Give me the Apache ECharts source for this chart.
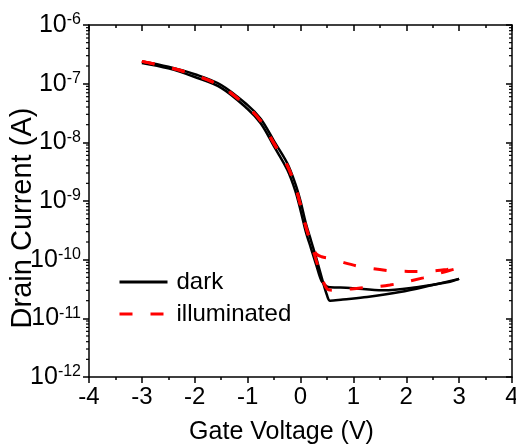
<!DOCTYPE html>
<html>
<head>
<meta charset="utf-8">
<script src="https://cdn.jsdelivr.net/npm/echarts@6/dist/echarts.min.js"></script>
<style>
html,body{margin:0;padding:0;background:#fff;}
#chart{width:516px;height:447px;}
</style>
</head>
<body>
<div id="chart"></div>
<script>
// ---- data ----
var xTickValues = [-4, -3, -2, -1, 0, 1, 2, 3, 4];
var yTickExponents = [-12, -11, -10, -9, -8, -7, -6];
var minorMultipliers = [2, 3, 4, 5, 6, 7, 8, 9];

// dark, branch A (reaches the lower minimum)
var darkA_V = [-3, -2.5, -2, -1.5, -1, -0.75, -0.5, -0.25, -0.1, 0, 0.1, 0.2, 0.3, 0.4, 0.5, 0.56, 0.8, 1.26, 1.88, 2.5, 3];
var darkA_I = [2.4e-7, 1.95e-7, 1.45e-7, 9.5e-8, 4.3e-8, 2.5e-8, 1.05e-8, 4.4e-9, 2.0e-9, 1.0e-9, 4.2e-10, 2.1e-10, 1.05e-10, 5.0e-11, 2.5e-11, 2.0e-11, 2.1e-11, 2.3e-11, 2.8e-11, 3.7e-11, 4.7e-11];
// dark, branch B
var darkB_V = [-3, -2.5, -2, -1.5, -1, -0.75, -0.5, -0.25, -0.1, 0, 0.1, 0.2, 0.3, 0.4, 0.5, 0.56, 0.94, 1.56, 2.2, 2.83, 3];
var darkB_I = [2.25e-7, 1.82e-7, 1.3e-7, 8.5e-8, 3.7e-8, 2.1e-8, 8.5e-9, 3.4e-9, 1.5e-9, 7.0e-10, 3.0e-10, 1.55e-10, 8.0e-11, 4.3e-11, 3.5e-11, 3.4e-11, 3.3e-11, 3.0e-11, 3.4e-11, 4.2e-11, 4.7e-11];
// illuminated, upper branch
var illumA_V = [-3, -2.5, -2, -1.5, -1, -0.75, -0.5, -0.25, -0.1, 0, 0.1, 0.2, 0.3, 0.4, 0.56, 0.8, 1.13, 1.5, 1.75, 2.32, 2.77, 3];
var illumA_I = [2.4e-7, 1.9e-7, 1.4e-7, 9.0e-8, 4.0e-8, 2.3e-8, 9.5e-9, 4.0e-9, 1.8e-9, 8.5e-10, 3.7e-10, 1.9e-10, 1.25e-10, 1.12e-10, 1.05e-10, 9.0e-11, 7.6e-11, 6.8e-11, 6.4e-11, 6.3e-11, 6.8e-11, 7.2e-11];
// illuminated, lower branch
var illumB_V = [-3, -2.5, -2, -1.5, -1, -0.75, -0.5, -0.25, -0.1, 0, 0.1, 0.2, 0.3, 0.4, 0.5, 0.6, 1.13, 1.69, 2.32, 2.83, 3];
var illumB_I = [2.4e-7, 1.9e-7, 1.4e-7, 9.0e-8, 4.0e-8, 2.3e-8, 9.5e-9, 4.0e-9, 1.8e-9, 8.5e-10, 3.7e-10, 1.9e-10, 9.5e-11, 5.0e-11, 3.2e-11, 3.0e-11, 3.3e-11, 3.7e-11, 4.9e-11, 6.6e-11, 7.2e-11];

function pairs(xs, ys) { var out = []; for (var i = 0; i < xs.length; i++) out.push([xs[i], ys[i]]); return out; }

var FONT = '"Liberation Sans", Arial, sans-serif';
var xMin = xTickValues[0], xMax = xTickValues[xTickValues.length - 1];
var yMin = Math.pow(10, yTickExponents[0]), yMax = Math.pow(10, yTickExponents[yTickExponents.length - 1]);

var minorData = [];
for (var d = yTickExponents[0]; d < yTickExponents[yTickExponents.length - 1]; d++) {
  for (var k = 0; k < minorMultipliers.length; k++) minorData.push([xMin, minorMultipliers[k] * Math.pow(10, d)]);
}

var chart = echarts.init(document.getElementById('chart'), null, {renderer: 'canvas'});

var lineCommon = {type: 'line', symbol: 'none', showSymbol: false, smooth: 0.35, xAxisIndex: 0, yAxisIndex: 0, z: 3};
var darkStyle = {color: '#000000', width: 2.5, type: 'solid'};
var illumStyle = {color: '#ff0000', width: 3, type: [13, 18]};

var axisLine = {show: true, onZero: false, lineStyle: {color: '#000', width: 1.5}};

var option = {
  animation: false,
  backgroundColor: '#fff',
  grid: {left: 89, right: 4, top: 25, bottom: 70, containLabel: false, outerBoundsMode: 'none'},
  legend: {
    data: ['dark', 'illuminated'],
    orient: 'vertical', left: 113, top: 265,
    itemWidth: 48, itemHeight: 14, itemGap: 8,
    itemStyle: {opacity: 0},
    lineStyle: {width: 3},
    textStyle: {fontSize: 24, fontFamily: FONT, color: '#000', padding: [0, 0, 0, 4]}
  },
  xAxis: [{
    type: 'value', position: 'bottom', min: xMin, max: xMax, interval: 1,
    name: 'Gate Voltage (V)', nameLocation: 'middle', nameGap: 43, nameMoveOverlap: false,
    nameTextStyle: {fontSize: 25, fontFamily: FONT, color: '#000', padding: [0, 38, 0, 0]},
    axisLine: axisLine,
    axisTick: {show: true, inside: false, length: 6, lineStyle: {color: '#000', width: 1.5}},
    minorTick: {show: true, splitNumber: 2, length: 3, lineStyle: {color: '#000', width: 1.5}},
    axisLabel: {fontSize: 24, fontFamily: FONT, color: '#000', margin: 8},
    splitLine: {show: false}
  }, {
    type: 'value', position: 'top', min: xMin, max: xMax, interval: 1,
    axisLine: axisLine,
    axisTick: {show: true, inside: true, length: 6, lineStyle: {color: '#000', width: 1.5}},
    minorTick: {show: true, splitNumber: 2, length: 3, lineStyle: {color: '#000', width: 1.5}},
    axisLabel: {show: false}, splitLine: {show: false}
  }],
  yAxis: [{
    type: 'log', logBase: 10, position: 'left', min: yMin, max: yMax, interval: 1,
    name: 'Drain Current (A)', nameLocation: 'middle', nameGap: 52, nameRotate: 90, nameMoveOverlap: false,
    nameTextStyle: {fontSize: 29, fontFamily: FONT, color: '#000', padding: [0, 34, 0, 0]},
    axisLine: axisLine,
    axisTick: {show: true, inside: false, length: 6, lineStyle: {color: '#000', width: 1.5}},
    axisLabel: {
      margin: 8, fontFamily: FONT, color: '#000',
      formatter: function (v) { var e = Math.round(Math.log(v) / Math.LN10); return '{b|10}{s|' + e + '}'; },
      rich: {
        b: {fontSize: 25, lineHeight: 26, fontFamily: FONT, color: '#000'},
        s: {fontSize: 16, lineHeight: 16, fontFamily: FONT, color: '#000', verticalAlign: 'top'}
      }
    },
    splitLine: {show: false}
  }, {
    type: 'log', logBase: 10, position: 'right', min: yMin, max: yMax, interval: 1,
    axisLine: axisLine,
    axisTick: {show: true, inside: true, length: 6, lineStyle: {color: '#000', width: 1.5}},
    axisLabel: {show: false}, splitLine: {show: false}
  }],
  series: [
    Object.assign({}, lineCommon, {name: 'dark', data: pairs(darkA_V, darkA_I), lineStyle: darkStyle, itemStyle: {color: '#000'}}),
    Object.assign({}, lineCommon, {name: 'dark', data: pairs(darkB_V, darkB_I), lineStyle: darkStyle, itemStyle: {color: '#000'}}),
    Object.assign({}, lineCommon, {name: 'illuminated', data: pairs(illumA_V, illumA_I), lineStyle: illumStyle, itemStyle: {color: '#ff0000'}, z: 4}),
    Object.assign({}, lineCommon, {name: 'illuminated', data: pairs(illumB_V, illumB_I), lineStyle: illumStyle, itemStyle: {color: '#ff0000'}, z: 4}),
    {
      type: 'custom', name: 'minorTicks', silent: true, clip: false, xAxisIndex: 0, yAxisIndex: 0, z: 5,
      data: minorData,
      renderItem: function (params, api) {
        var pL = api.coord([xMin, api.value(1)]);
        var pR = api.coord([xMax, api.value(1)]);
        var st = {stroke: '#000', lineWidth: 1.2};
        return {type: 'group', children: [
          {type: 'line', shape: {x1: pL[0] - 3, y1: pL[1], x2: pL[0], y2: pL[1]}, style: st},
          {type: 'line', shape: {x1: pR[0] - 3, y1: pR[1], x2: pR[0], y2: pR[1]}, style: st}
        ]};
      }
    }
  ]
};
chart.setOption(option);
</script>
</body>
</html>
